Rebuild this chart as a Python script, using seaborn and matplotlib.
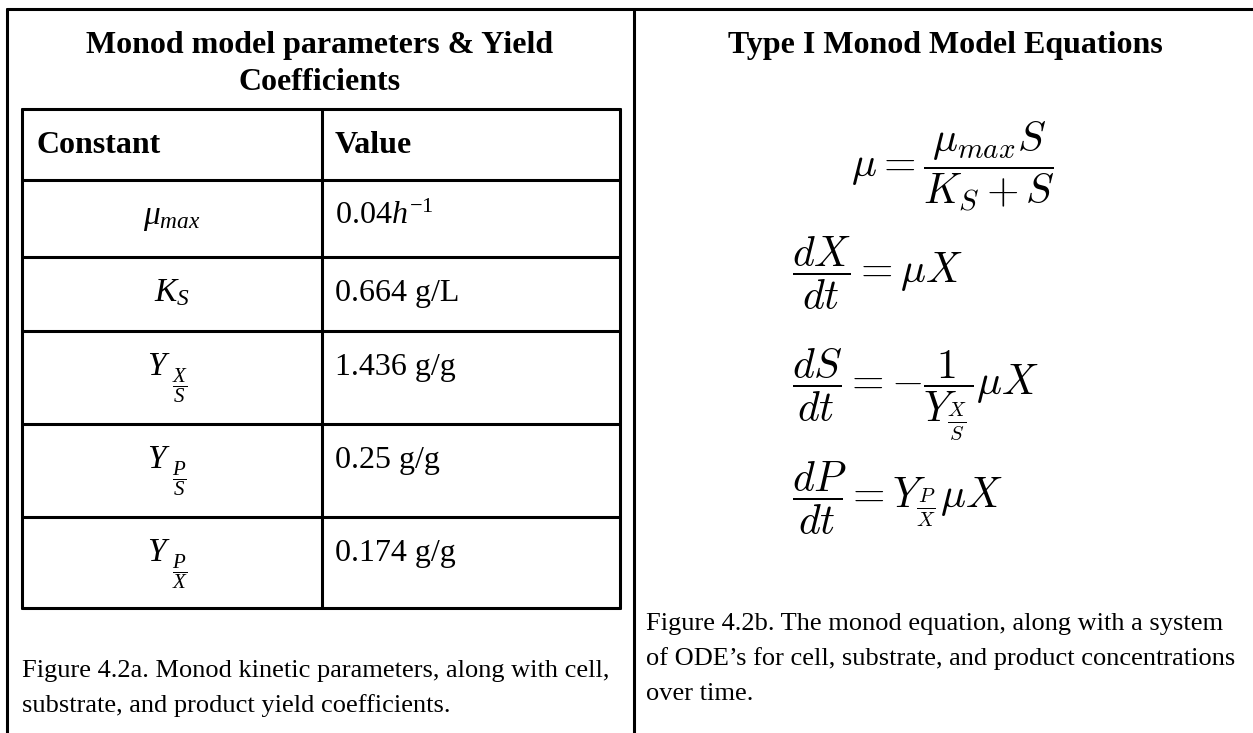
import matplotlib
matplotlib.use("Agg")
import matplotlib.pyplot as plt
import seaborn as sns

# table content
table_title = ["Monod model parameters & Yield", "Coefficients"]
header = ["Constant", "Value"]
# each constant: main symbol, subscript fraction (or None)
const_main = [r"$\mu_{max}$", r"$K_S$", r"$Y$", r"$Y$", r"$Y$"]
const_frac = [None, None, r"$\dfrac{X}{S}$", r"$\dfrac{P}{S}$", r"$\dfrac{P}{X}$"]
values = [r"0.04$h^{-1}$", "0.664 g/L", "1.436 g/g", "0.25 g/g", "0.174 g/g"]
caption_a = ["Figure 4.2a. Monod kinetic parameters, along with cell,",
             "substrate, and product yield coefficients."]

# equations panel
eq_title = "Type I Monod Model Equations"
equations = [r"$\mu = \dfrac{\mu_{max}S}{K_S + S}$",
             r"$\dfrac{dX}{dt} = \mu X$",
             r"$\dfrac{dS}{dt} = -\dfrac{1}{Y_{\frac{X}{S}}}\mu X$",
             r"$\dfrac{dP}{dt} = Y_{\frac{P}{X}}\mu X$"]
caption_b = ["Figure 4.2b. The monod equation, along with a system",
             "of ODE\u2019s for cell, substrate, and product concentrations",
             "over time."]

sns.set_theme(style="white")
plt.rcParams["font.family"] = ["Liberation Serif", "DejaVu Serif"]
plt.rcParams["text.color"] = "black"
plt.rcParams["mathtext.fontset"] = "custom"
plt.rcParams["mathtext.rm"] = "Liberation Serif"
plt.rcParams["mathtext.it"] = "Liberation Serif:italic"
plt.rcParams["mathtext.bf"] = "Liberation Serif:bold"

fig = plt.figure(figsize=(12.53, 7.33), dpi=100)
ax = fig.add_axes([0, 0, 1, 1])
ax.set_xlim(0, 1253)
ax.set_ylim(733, 0)
ax.axis("off")

lw = 2.2
# page frame
ax.plot([7, 1253], [9, 9], color="black", lw=lw)
ax.plot([7, 7], [9, 733], color="black", lw=lw)
ax.plot([634, 634], [9, 733], color="black", lw=lw)

# left panel title
for i, line in enumerate(table_title):
    ax.text(320, 53 + 37 * i, line, ha="center", va="baseline",
            fontsize=23, fontweight="bold")

# table grid
rows = [109, 180, 257, 331, 424, 517, 608]
for y in rows:
    ax.plot([22, 620], [y, y], color="black", lw=lw)
for x in [22, 322, 620]:
    ax.plot([x, x], [rows[0], rows[-1]], color="black", lw=lw)

ax.text(37, rows[0] + 44, header[0], ha="left", va="baseline",
        fontsize=23, fontweight="bold")
ax.text(335, rows[0] + 44, header[1], ha="left", va="baseline",
        fontsize=23, fontweight="bold")
for i, (c, f, v) in enumerate(zip(const_main, const_frac, values)):
    top = rows[i + 1]
    if f is None:
        ax.text(172, top + 44, c, ha="center", va="baseline", fontsize=24)
    else:
        ax.text(171, top + 44, c, ha="right", va="baseline", fontsize=24)
        ax.text(172, top + 55, f, ha="left", va="center", fontsize=15)
    ax.text(335, top + 44, v, ha="left", va="baseline", fontsize=23)

for i, line in enumerate(caption_a):
    ax.text(22, 677 + 35 * i, line, ha="left", va="baseline", fontsize=19)

# right panel
ax.text(945, 53, eq_title, ha="center", va="baseline",
        fontsize=23, fontweight="bold")
ax.text(851, 149, equations[0], ha="left", va="center_baseline",
        fontsize=30, math_fontfamily="cm")
eq_y = [259, 370, 484]
for y, eq in zip(eq_y, equations[1:]):
    ax.text(792, y, eq, ha="left", va="center_baseline",
            fontsize=30, math_fontfamily="cm")

for i, line in enumerate(caption_b):
    ax.text(646, 630 + 35 * i, line, ha="left", va="baseline", fontsize=19)

fig.savefig("out.png", dpi=100)
